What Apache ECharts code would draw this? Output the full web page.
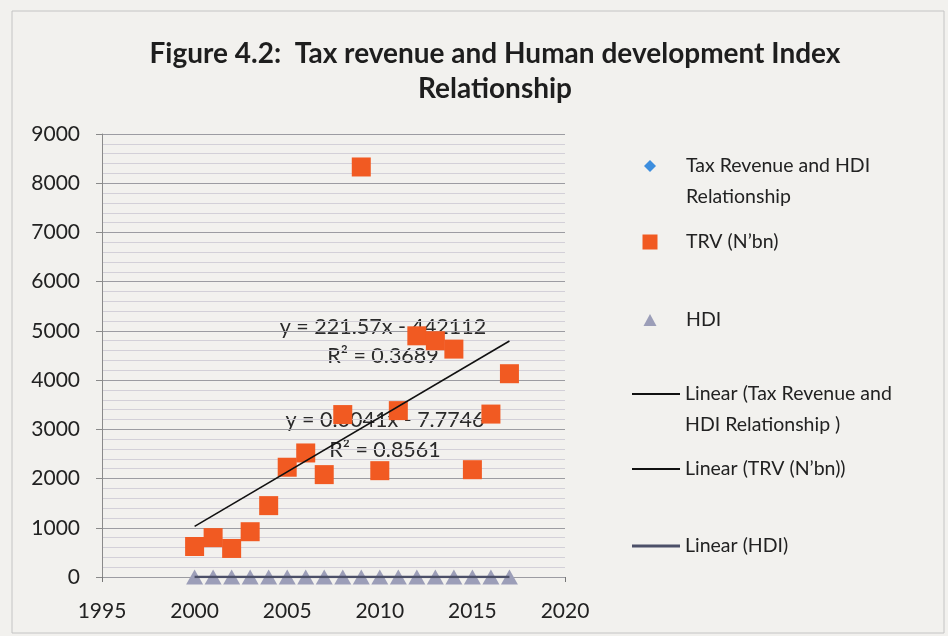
<!DOCTYPE html>
<html>
<head>
<meta charset="utf-8">
<script src="https://cdn.jsdelivr.net/npm/echarts@6/dist/echarts.min.js"></script>
<style>html,body{margin:0;padding:0;background:#f2f1ee;}#c{width:948px;height:636px;}</style>
</head>
<body>
<div id="c"></div>
<script>
// ---- data ----
const years = [2000,2001,2002,2003,2004,2005,2006,2007,2008,2009,2010,2011,2012,2013,2014,2015,2016,2017];
const trv = [620,800,580,920,1450,2230,2520,2080,3300,8330,2160,3380,4900,4800,4630,2180,3310,4130];
const hdi = [0.43,0.43,0.44,0.44,0.44,0.45,0.45,0.46,0.46,0.47,0.47,0.47,0.48,0.48,0.48,0.49,0.49,0.50];
const taxHdiPoints = [];
const taxHdiTrend = [];
const trvTrend = [[2000,1028],[2017,4795]];
const hdiTrend = [[2000,0.425],[2017,0.495]];
const trvEq = ['y = 221.57x - 442112','R\u00b2 = 0.3689'];
const hdiEq = ['y = 0.0041x - 7.7746','R\u00b2 = 0.8561'];
const titleText = 'Figure 4.2:  Tax revenue and Human development Index\nRelationship';
const names = ['Tax Revenue and HDI Relationship','TRV (N\u2019bn)','HDI','Linear (Tax Revenue and HDI Relationship )','Linear (TRV (N\u2019bn))','Linear (HDI)'];
const legendLabels = ['Tax Revenue and HDI\nRelationship','TRV (N\u2019bn)','HDI','Linear (Tax Revenue and\nHDI Relationship )','Linear (TRV (N\u2019bn))','Linear (HDI)'];

const FONT = 'Lato, "Open Sans", sans-serif';
const chart = echarts.init(document.getElementById('c'));
// firstLineY: vertical centre of the first text line; icon is centred on it
function legendFor(i, firstLineY, marker, icon, iw, ih){
  const two = legendLabels[i].indexOf('\n') >= 0;
  const label = two ? ' \n' + legendLabels[i] : legendLabels[i];
  const top = two ? firstLineY - 46.5 : firstLineY - 15.5;
  return {
    data: [{name: names[i], icon: icon}], left: (marker ? 650 - iw / 2 : 632) - 5, top: top - 5, orient: 'vertical',
    itemWidth: iw, itemHeight: ih,
    formatter: () => label,
    textStyle: {fontFamily: FONT, fontSize: 19.5, color: '#222', lineHeight: 31,
      padding: [0, 0, 0, marker ? 686 - (650 + iw / 2) - 5 : 0]},
    selectedMode: false
  };
}
function eqText(x, y, s){
  return {type: 'text', x: x, y: y, silent: true,
    style: {text: s, fontFamily: FONT, fontSize: 21.5, fill: '#2a2a2a', align: 'center', verticalAlign: 'middle'}};
}
chart.setOption({
  backgroundColor: '#f2f1ee',
  animation: false,
  title: {text: titleText, left: 490, top: 31, textAlign: 'center',
    textStyle: {fontFamily: FONT, fontWeight: 'bold', fontSize: 28, color: '#1e1e1e', lineHeight: 35}},
  legend: [
    legendFor(0, 166, true, 'diamond', 12, 12),
    legendFor(1, 242, true, 'rect', 15, 15),
    legendFor(2, 320, true, 'triangle', 13, 12),
    legendFor(3, 394, false, 'rect', 48, 2),
    legendFor(4, 469, false, 'rect', 48, 2),
    legendFor(5, 546, false, 'rect', 48, 3)
  ],
  grid: {left: 102, right: 383, top: 134, bottom: 59},
  xAxis: {type: 'value', min: 1995, max: 2020, interval: 5,
    axisLine: {onZero: false, show: false},
    axisTick: {show: true, length: 5, lineStyle: {color: '#777'}},
    axisLabel: {fontFamily: FONT, fontSize: 21, color: '#222', margin: 24, formatter: v => String(v)},
    splitLine: {show: false}},
  yAxis: {type: 'value', min: 0, max: 9000, interval: 1000,
    axisLine: {show: true, lineStyle: {color: '#8a8a8a'}},
    axisTick: {show: true, length: 6, lineStyle: {color: '#8a8a8a'}},
    axisLabel: {fontFamily: FONT, fontSize: 21, color: '#222', margin: 22, formatter: v => String(v)},
    splitLine: {show: true, lineStyle: {color: '#9c9ca2', width: 1}},
    minorTick: {show: false, splitNumber: 5},
    minorSplitLine: {show: true, lineStyle: {color: '#d3d0d8', width: 1}}},
  graphic: [
    {type: 'rect', shape: {x: 12, y: 11, width: 932, height: 622}, style: {fill: 'none', stroke: '#c4c4c4', lineWidth: 1}, silent: true},
    eqText(383, 327, trvEq[0]),
    eqText(383, 356, trvEq[1]),
    eqText(385, 420, hdiEq[0]),
    eqText(385, 450, hdiEq[1])
  ],
  series: [
    {name: names[0], type: 'scatter', symbol: 'diamond', symbolSize: 12, itemStyle: {color: '#3d8ede', opacity: 1}, data: taxHdiPoints},
    {name: names[1], type: 'scatter', symbol: 'rect', symbolSize: 19, itemStyle: {color: '#f15a22', opacity: 1}, z: 3,
      data: years.map((y, i) => [y, trv[i]])},
    {name: names[2], type: 'scatter', symbol: 'triangle', symbolSize: [17, 15], itemStyle: {color: '#9c9eb8', opacity: 1}, z: 3,
      data: years.map((y, i) => [y, hdi[i]])},
    {name: names[3], type: 'line', symbol: 'none', lineStyle: {color: '#111', width: 1.5}, itemStyle: {color: '#111'}, data: taxHdiTrend},
    {name: names[4], type: 'line', symbol: 'none', lineStyle: {color: '#111', width: 1.6}, itemStyle: {color: '#111'}, z: 4, data: trvTrend},
    {name: names[5], type: 'line', symbol: 'none', lineStyle: {color: '#4c5068', width: 2.5}, itemStyle: {color: '#4c5068'}, z: 4, data: hdiTrend}
  ]
});
</script>
</body>
</html>
